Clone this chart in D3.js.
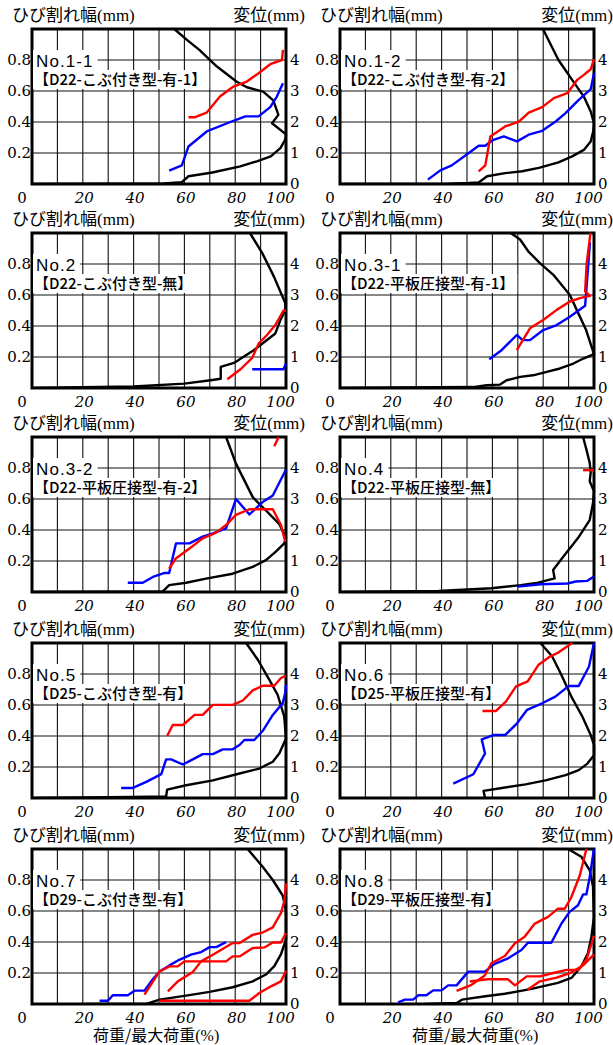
<!DOCTYPE html>
<html>
<head>
<meta charset="utf-8">
<script src="https://cdn.jsdelivr.net/npm/d3@7"></script>
<style>
  body { margin: 0; background: #fff; }
  svg { display: block; }
</style>
</head>
<body>
<svg id="chart" width="613" height="1045"></svg>
<script>
// ---- axis ticks and labels ----
const xTicks = [20, 40, 60, 80, 100];
const xGrid = [10, 20, 30, 40, 50, 60, 70, 80, 90];
const crackTicks = [0.2, 0.4, 0.6, 0.8];
const dispTicks = [0, 1, 2, 3, 4];

const specimens = ['No.1-1', 'No.1-2', 'No.2', 'No.3-1', 'No.3-2',
                   'No.4', 'No.5', 'No.6', 'No.7', 'No.8'];
const specimenTypes = ['【D22-こぶ付き型-有-1】', '【D22-こぶ付き型-有-2】',
                       '【D22-こぶ付き型-無】', '【D22-平板圧接型-有-1】',
                       '【D22-平板圧接型-有-2】', '【D22-平板圧接型-無】',
                       '【D25-こぶ付き型-有】', '【D25-平板圧接型-有】',
                       '【D29-こぶ付き型-有】', '【D29-平板圧接型-有】'];

// ---- series: [load / max load (%), value] ----
// displacement (mm, right axis)
const no11Disp = [[0,0],[52,0.02],[59,0.06],[61.6,0.25],[71,0.37],[82,0.57],[88.5,0.73],[94,0.89],[97.8,1.16],[99.7,1.43],[100,1.6],[94.5,1.96],[97,2.23],[95,2.7],[91,2.98],[84.6,3.12],[80.6,3.3],[72.8,3.79],[66,4.32],[61,4.65],[56,5]];
const no12Disp = [[0,0],[41,0],[50.7,0.03],[54.6,0.05],[57.9,0.25],[65,0.35],[71.7,0.41],[78.3,0.52],[86,0.7],[91.4,0.89],[96,1.1],[98.7,1.37],[99.7,1.7],[100,1.96],[98.7,2.34],[96,2.82],[91.4,3.36],[86,4],[79.9,5]];
const no2Disp = [[0,0],[40,0.05],[60,0.14],[70.3,0.25],[74.3,0.3],[74.3,0.68],[79.5,0.81],[87.3,1.22],[92.5,1.55],[95.8,1.76],[97.8,2.19],[99.7,2.52],[99.7,2.74],[95.2,3.6],[90.6,4.36],[85.8,5]];
const no31Disp = [[0,0],[52.5,0.03],[57.7,0.09],[63,0.11],[65.6,0.25],[70.9,0.36],[76,0.41],[81.4,0.52],[86.6,0.63],[91.9,0.79],[95.8,0.95],[100,1.09],[96.9,1.87],[93.2,2.52],[90.5,3],[84,3.65],[78.7,4.03],[74.1,4.41],[70.9,4.79],[67.2,5]];
const no32Disp = [[0,0],[51.5,0.02],[54,0.22],[60.7,0.3],[68.5,0.43],[79,0.59],[86.9,0.81],[92.1,1.03],[96,1.3],[99.3,1.57],[100,1.75],[97.4,2.19],[92.1,2.63],[86.9,3.06],[80.3,4.14],[76.4,5]];
const no4Disp = [[0,0],[38.7,0.03],[59.6,0.12],[71.2,0.22],[78,0.3],[84.5,0.44],[83.9,0.71],[88.5,1.2],[93.7,1.74],[98.3,2.32],[99.6,2.86],[100,3.25],[98.3,3.57],[98.7,3.85],[98.3,4.17],[97,4.6],[95.7,5]];
const no5Disp = [[0,0],[39.7,0.03],[52.8,0.05],[53.2,0.27],[60.7,0.41],[71.2,0.57],[81.7,0.79],[89.5,0.95],[94.8,1.17],[97.4,1.44],[100,1.92],[99.3,2.63],[96.7,3.33],[93.4,3.82],[88.9,4.46],[84.3,5]];
const no6Disp = [[57.1,0],[56.5,0.23],[65,0.34],[73,0.44],[80.9,0.57],[88.8,0.74],[94,0.9],[97.4,1.11],[100,1.38],[100,1.71],[98.7,2.03],[95.4,2.63],[91.4,3.22],[86.8,4.03],[83.5,4.57],[78.9,5]];
const no7Disp = [[21,0],[45,0],[50.2,0.14],[60.7,0.27],[69.9,0.39],[79,0.54],[86.9,0.73],[92.1,0.95],[95.4,1.22],[98,1.6],[100,2.08],[100,3],[98.7,3.5],[94.8,4],[90.8,4.43],[84.9,5]];
const no8Disp = [[33.4,0],[46,0.03],[48,0.14],[57.2,0.25],[64.9,0.33],[75.4,0.49],[85.8,0.68],[91.1,0.84],[95,1.21],[97.6,1.64],[99,2.18],[100,2.82],[99.6,3.79],[98.3,4.32],[95,4.75],[89.8,5]];

// crack width (mm, left axis), red
const no11Red = [[61.6,0.431],[64.2,0.431],[68.8,0.461],[74,0.564],[79.3,0.629],[84.6,0.661],[89.2,0.715],[93.8,0.773],[98.4,0.8],[98.8,0.865]];
const no12Red = [[54.6,0.082],[57.2,0.12],[59.2,0.307],[65,0.371],[70.4,0.403],[74.3,0.461],[79.6,0.496],[84.2,0.554],[89.5,0.586],[93.4,0.672],[96,0.704],[98.7,0.74],[100,0.805]];
const no2Red = [[76.9,0.056],[82.1,0.121],[86.7,0.195],[89.3,0.288],[92.5,0.342],[95.8,0.406],[99,0.5],[100,0.5]];
const no31Red = [[69.6,0.244],[74.8,0.385],[80,0.439],[85.3,0.504],[90.5,0.558],[94.5,0.58],[98.4,0.595],[96.5,0.623],[97.1,0.8],[98.6,1]];
const no32Red = [[54,0.151],[56.6,0.216],[62,0.281],[67.2,0.346],[72.5,0.383],[76.4,0.432],[80.3,0.497],[85.6,0.534],[94.8,0.534],[98,0.432],[99.7,0.324]];
const no32Red2 = [[95.4,0.94],[97.1,1]];
const no4Red = [[95.7,0.786],[100,0.786]];
const no5Red = [[53.2,0.4],[55.4,0.471],[59.4,0.471],[64,0.536],[67.2,0.536],[71.2,0.601],[79,0.601],[83,0.629],[86.9,0.694],[90.8,0.724],[95.4,0.724],[98,0.774],[100,0.789]];
const no6Red = [[56.1,0.561],[61.3,0.561],[65.3,0.622],[69.3,0.72],[73.9,0.753],[78.2,0.86],[82.8,0.914],[86.1,0.94],[91.4,1]];
const no7RedA = [[44.3,0.06],[50.2,0.21],[54.1,0.243],[57.4,0.243],[60,0.275],[65.9,0.275],[76.4,0.275],[79,0.307],[81.7,0.307],[86.9,0.361],[91.5,0.365],[94.8,0.397],[98,0.397],[100,0.457]];
const no7RedB = [[53.5,0.082],[57.4,0.146],[63.3,0.206],[66.6,0.275],[71.2,0.318],[79,0.393],[81.7,0.393],[86.9,0.446],[90.8,0.461],[94.8,0.494],[98,0.586],[99.3,0.661],[100,0.779]];
const no7RedC = [[50.2,0.021],[85.6,0.021],[89.5,0.071],[94.1,0.114],[98,0.146],[100,0.215]];
const no8RedA = [[45.9,0.085],[51.8,0.124],[57,0.184],[59.6,0.263],[64.9,0.31],[68.8,0.391],[72.7,0.434],[76.7,0.519],[81.9,0.562],[85.8,0.615],[88.5,0.615],[91.1,0.69],[94.4,0.829],[97,1]];
const no8RedB = [[51.1,0.145],[58,0.16],[66,0.16],[68.9,0.12],[73.5,0.178],[78.7,0.178],[84,0.2],[89.2,0.22],[93.8,0.22],[97.1,0.29],[100,0.44]];
const no8RedC = [[73.8,0.092],[78.7,0.146],[85.3,0.17],[90.6,0.2],[95.8,0.25],[100,0.32]];

// crack width (mm, left axis), blue
const no11Blue = [[54,0.086],[59,0.12],[61.6,0.242],[68.8,0.339],[79.3,0.408],[84,0.436],[89.2,0.436],[93.8,0.496],[96.4,0.564],[98.8,0.65]];
const no12Blue = [[34.6,0.028],[39.5,0.088],[44,0.12],[50.7,0.2],[54.6,0.247],[57.2,0.247],[59.9,0.281],[64.5,0.307],[69.7,0.275],[74.3,0.318],[79.6,0.343],[84.9,0.403],[88.8,0.457],[94,0.543],[98.7,0.612],[100,0.715]];
const no2Blue = [[86.7,0.121],[99,0.121],[100,0.158]];
const no31Blue = [[58.8,0.186],[63.6,0.244],[69.6,0.342],[71.9,0.309],[74.8,0.309],[80,0.374],[85.3,0.406],[90.5,0.46],[96.5,0.53],[97.1,0.655],[98.4,0.94]];
const no32Blue = [[37.7,0.06],[43.6,0.06],[47.6,0.097],[52.2,0.123],[54,0.123],[56.7,0.314],[62,0.314],[67.2,0.357],[71.2,0.378],[76.4,0.41],[80.3,0.6],[85.6,0.5],[90.8,0.58],[94.8,0.623],[100,0.79]];
const no4Blue = [[70.1,0.035],[79,0.05],[89.5,0.055],[92.8,0.068],[97.4,0.072],[100,0.1]];
const no5Blue = [[35.1,0.065],[39.7,0.065],[45,0.104],[50.9,0.154],[52.8,0.249],[54.8,0.249],[59.4,0.216],[63.3,0.249],[67.2,0.283],[71.2,0.283],[75.1,0.314],[79,0.314],[81.7,0.342],[83.6,0.374],[87.5,0.374],[90.8,0.432],[94.8,0.536],[98.7,0.612],[99.7,0.677],[100,0.731]];
const no6Blue = [[44.6,0.093],[52.5,0.153],[57.1,0.287],[55.8,0.378],[60.4,0.406],[65,0.406],[69.7,0.482],[73.6,0.568],[79.6,0.611],[84.8,0.654],[90.1,0.723],[94,0.723],[98,0.847],[100,1]];
const no7Blue = [[26.6,0.021],[29.9,0.021],[31.8,0.056],[37.7,0.056],[40.4,0.086],[44.3,0.086],[46.9,0.146],[50.2,0.21],[54.1,0.249],[58,0.285],[62.6,0.318],[66.6,0.335],[69.9,0.367],[72.5,0.367],[76.4,0.399]];
const no8Blue = [[22.9,0.01],[25.6,0.028],[28.8,0.028],[30.8,0.056],[34,0.056],[36.7,0.088],[40,0.088],[42.6,0.12],[45.9,0.12],[50.5,0.209],[57,0.209],[60.9,0.259],[66.2,0.295],[71.4,0.348],[74,0.395],[83.2,0.395],[87.2,0.519],[90.4,0.594],[93.7,0.637],[95.7,0.707],[97,0.707],[98.3,0.818],[100,1]];

const panels = [
  { disp: no11Disp, red: [no11Red], blue: [no11Blue] },
  { disp: no12Disp, red: [no12Red], blue: [no12Blue] },
  { disp: no2Disp,  red: [no2Red],  blue: [no2Blue] },
  { disp: no31Disp, red: [no31Red], blue: [no31Blue] },
  { disp: no32Disp, red: [no32Red, no32Red2], blue: [no32Blue] },
  { disp: no4Disp,  red: [no4Red],  blue: [no4Blue] },
  { disp: no5Disp,  red: [no5Red],  blue: [no5Blue] },
  { disp: no6Disp,  red: [no6Red],  blue: [no6Blue] },
  { disp: no7Disp,  red: [no7RedA, no7RedB, no7RedC], blue: [no7Blue] },
  { disp: no8Disp,  red: [no8RedA, no8RedB, no8RedC], blue: [no8Blue] }
].map((p, i) => Object.assign(p, { name: specimens[i], type: specimenTypes[i] }));

// ---- layout ----
const colLeft = [32, 340];
const rowTop = [29, 233, 437, 643, 849];
const W = 254, H = 155;
const jp = '"Noto Sans CJK JP", sans-serif';
const serif = '"DejaVu Serif", serif';

const svg = d3.select('#chart');

const drawPanel = (g, p, i, left, top) => {
  const x = d3.scaleLinear().domain([0, 100]).range([left, left + W]);
  const yL = d3.scaleLinear().domain([0, 1]).range([top + H, top]);
  const yR = d3.scaleLinear().domain([0, 5]).range([top + H, top]);

  // grid
  g.append('g')
    .selectAll('line').data(xGrid).join('line')
      .attr('x1', d => x(d)).attr('x2', d => x(d))
      .attr('y1', top).attr('y2', top + H)
      .attr('stroke', '#111').attr('stroke-width', 1.1);
  g.append('g')
    .selectAll('line').data(crackTicks).join('line')
      .attr('x1', left).attr('x2', left + W)
      .attr('y1', d => yL(d)).attr('y2', d => yL(d))
      .attr('stroke', '#111').attr('stroke-width', 1.1);

  // frame
  g.append('rect')
    .attr('x', left).attr('y', top).attr('width', W).attr('height', H)
    .attr('fill', 'none').attr('stroke', '#000').attr('stroke-width', 3);

  // specimen labels with white boxes
  const lab = g.append('g');
  const nameBox = lab.append('rect').attr('fill', '#fff');
  const typeBox = lab.append('rect').attr('fill', '#fff');
  const name = lab.append('text')
    .attr('x', left + 4).attr('y', top + 38)
    .attr('font-family', '"Liberation Sans", Arial, sans-serif')
    .attr('font-size', 17).attr('letter-spacing', 1.1)
    .text(p.name);
  const type = lab.append('text')
    .attr('x', left + 2).attr('y', top + 56)
    .attr('font-family', jp).attr('font-size', 15)
    .attr('font-weight', 500)
    .text(p.type);
  const nb = name.node().getBBox();
  const tb = type.node().getBBox();
  nameBox.attr('x', left + 1).attr('y', top + 21)
    .attr('width', nb.x + nb.width + 4 - (left + 1)).attr('height', 20);
  typeBox.attr('x', left + 1).attr('y', top + 41)
    .attr('width', tb.x + tb.width + 3 - (left + 1)).attr('height', 19);

  // data lines
  const clipId = `clip-${i}`;
  g.append('clipPath').attr('id', clipId)
    .append('rect').attr('x', left).attr('y', top - 2).attr('width', W + 2).attr('height', H + 2);
  const plot = g.append('g').attr('clip-path', `url(#${clipId})`);

  const lineL = d3.line().x(d => x(d[0])).y(d => yL(d[1]));
  const lineR = d3.line().x(d => x(d[0])).y(d => yR(d[1]));

  plot.append('path').datum(p.disp)
    .attr('d', lineR).attr('fill', 'none')
    .attr('stroke', '#000').attr('stroke-width', 2.4).attr('stroke-linejoin', 'round');
  plot.selectAll('path.blue').data(p.blue).join('path')
    .attr('class', 'blue').attr('d', lineL).attr('fill', 'none')
    .attr('stroke', '#0000ff').attr('stroke-width', 2.4).attr('stroke-linejoin', 'round');
  plot.selectAll('path.red').data(p.red).join('path')
    .attr('class', 'red').attr('d', lineL).attr('fill', 'none')
    .attr('stroke', '#ff0000').attr('stroke-width', 2.4).attr('stroke-linejoin', 'round');

  // axes (labels only)
  const styleAxis = (ax) => {
    ax.select('.domain').remove();
    ax.attr('font-family', serif).attr('font-size', 15);
    ax.selectAll('text').attr('fill', '#000');
  };
  g.append('g').attr('transform', `translate(${left},0)`)
    .call(d3.axisLeft(yL).tickValues(crackTicks).tickSize(0).tickPadding(1).tickFormat(d3.format('.1f')))
    .call(styleAxis);
  g.append('g').attr('transform', `translate(${left + W},0)`)
    .call(d3.axisRight(yR).tickValues(dispTicks).tickSize(0).tickPadding(4).tickFormat(d3.format('d')))
    .call(styleAxis);
  g.append('g').attr('transform', `translate(0,${top + H})`)
    .call(d3.axisBottom(x).tickValues(xTicks).tickSize(0).tickPadding(8).tickFormat(d3.format('d')))
    .call(styleAxis)
    .call(ax => ax.selectAll('text').attr('font-style', 'italic')
      .attr('dx', d => d === 100 ? -6 : 1));
  g.append('text')
    .attr('x', left - 10).attr('y', top + H + 19)
    .attr('text-anchor', 'middle')
    .attr('font-family', serif).attr('font-size', 15)
    .text('0');

  // axis titles
  const t1 = g.append('text').attr('x', left - 20).attr('y', top - 8)
    .attr('font-family', jp).attr('font-size', 17);
  t1.append('tspan').text('ひび割れ幅');
  t1.append('tspan').attr('font-family', '"Liberation Serif", serif').text('(mm)');
  const t2 = g.append('text').attr('x', left + W + 19).attr('y', top - 8)
    .attr('text-anchor', 'end')
    .attr('font-family', jp).attr('font-size', 17);
  t2.append('tspan').text('変位');
  t2.append('tspan').attr('font-family', '"Liberation Serif", serif').text('(mm)');
};

panels.forEach((p, i) => {
  const g = svg.append('g');
  drawPanel(g, p, i, colLeft[i % 2], rowTop[Math.floor(i / 2)]);
});

// bottom titles
[93, 412].forEach(xPos => {
  const t = svg.append('text').attr('x', xPos).attr('y', 1041)
    .attr('font-family', jp).attr('font-size', 16);
  t.append('tspan').text('荷重/最大荷重');
  t.append('tspan').attr('font-family', '"Liberation Serif", serif').text('(%)');
});
</script>
</body>
</html>
